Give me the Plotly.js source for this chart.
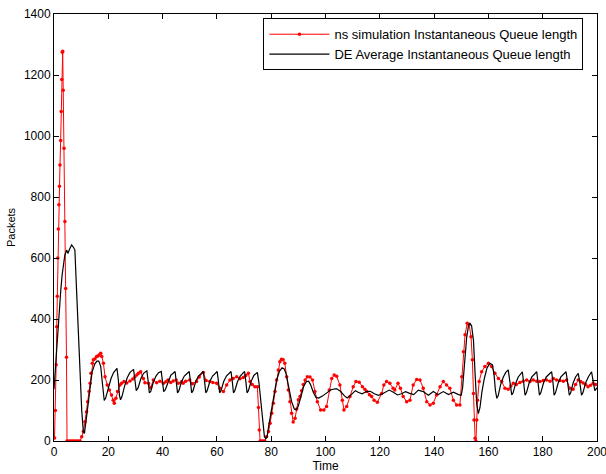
<!DOCTYPE html>
<html>
<head>
<meta charset="utf-8">
<script src="https://cdn.plot.ly/plotly-3.0.1.min.js"></script>
<style>html,body{margin:0;padding:0;background:#fff;}#chart{width:606px;height:474px;}</style>
</head>
<body>
<div id="chart"></div>
<script>
// ns simulation instantaneous queue length (red, with markers)
const nsTime = [0.2,0.5,0.8,1.0,1.2,1.4,1.6,1.8,2.0,2.2,2.45,2.65,2.85,3.05,3.2,3.4,3.7,4.0,4.3,4.6,4.8,5.4,6,6.6,7.2,7.8,8.4,9,9.6,10.2,10.8,11.4,12,12.4,12.9,13.3,13.6,14.1,14.5,15.1,15.7,16.2,16.6,17.2,17.6,18.2,18.8,19.6,20.4,21.2,21.8,22.2,22.8,23.4,24.3,24.9,25.8,26.8,28,29,29.8,30.5,31.1,31.9,32.9,33.5,34.8,35.6,36.6,37.8,39,40.3,41.2,42,43,43.9,45,45.8,47,47.6,48.5,50,51,52.5,53.5,55,56,57.4,58.5,59.9,61.1,62.4,63.6,64.8,66,67.3,68.5,69.7,70.6,71.6,72.2,73,74,74.9,75.3,75.6,75.9,76.5,77,77.6,78.3,79,79.6,80.2,80.8,81.4,82,82.6,83.2,83.8,84.4,85,85.7,86.3,86.9,87.5,88.1,88.8,89.4,90,90.6,91.2,91.8,92.5,93.3,94.3,95.2,96.1,97,98.2,99.4,100.4,101.4,102.3,103.2,104.1,105.3,106.2,106.8,107.8,109,110.2,111.2,112.4,113.6,114.5,115.2,116.2,117,117.9,119.1,120.7,121.5,122.5,123.7,124.9,125.5,126.7,127.6,128.6,129.9,131.1,132.3,133.6,134.8,136,137.3,138.5,139.7,140.9,142.2,143.4,144.6,145.8,147.1,148.3,149.5,150.2,150.8,151.4,152.2,152.9,153.6,154.1,154.5,154.7,155.1,155.4,155.7,156,156.6,157.5,158.7,160,161.2,162.4,163.7,164.9,166.1,167.3,168.3,169.2,170.3,171.6,172.8,174.1,175.3,176.5,177.8,179,180.2,181.4,182.7,183.9,185.1,186.3,187.6,188.8,190,191.2,192.1,193.1,194,194.9,195.8,196.7,197.6,198.6,199.5];
const nsQueue = [10,100,250,375,475,600,695,775,835,905,985,1080,1185,1275,1278,1150,960,720,500,275,0,0,0,0,0,0,0,0,0,14,31,63,96,129,162,189,222,255,266,270,277,279,282,288,277,255,211,184,167,151,134,124,140,162,184,189,195,190,197,203,211,216,222,227,205,191,189,175,200,191,196,189,194,200,192,197,200,189,194,189,196,200,188,195,210,225,198,195,192,189,173,162,184,200,205,211,204,208,215,222,195,185,178,178,110,36,0,0,0,0,14,31,58,91,124,162,200,233,260,268,266,255,211,167,129,91,62,75,105,135,146,165,185,200,211,210,200,162,129,102,102,113,167,205,216,212,184,134,102,113,146,178,195,193,178,170,162,152,146,134,127,156,184,195,189,173,167,189,173,146,129,134,184,202,200,173,129,118,124,151,178,195,184,173,134,118,118,211,293,348,386,381,342,266,156,69,9,0,69,134,195,227,244,255,244,222,205,195,173,170,180,189,185,192,196,200,195,200,196,195,198,200,196,205,200,198,196,200,173,170,185,200,195,190,185,178,183,189,185];

// DE average instantaneous queue length (black line)
const deTime = [0,0.5,1,1.5,2,2.5,3,3.5,4,4.7,5.1,5.8,6.5,7.1,7.7,8.1,8.6,9,9.6,10.2,10.8,11.2,12,13,14,15,15.8,16.5,17.2,17.7,18.1,18.5,19,20,21,22,23.2,23.7,24.1,24.5,25,26,27,28,29.3,29.8,30.3,31,32,33,34.2,34.7,35.1,35.6,36.5,37.5,38.5,39.5,40,40.4,41,42,43,44.6,45.1,45.5,46,47,48,49.8,50.3,50.7,51.2,52.2,53.2,55,55.5,55.9,56.4,57.4,58.4,60.1,60.6,61,61.5,62.5,63.5,65.2,65.7,66.1,66.6,67.6,68.6,70.2,70.7,71.1,71.6,72.6,73.6,74.9,75.5,76,76.5,77,77.5,78,78.5,79,80,81,82,83,84,84.8,85.5,86.5,87.5,88.5,89.2,90,91,92,93,93.8,94.5,95.5,96.5,97.5,99,100.5,102,104,105.5,107,108,109.5,111,112,113.5,115,116.5,118,119.5,121,123.5,125,126.5,128,129.5,131,132.5,134.2,136,137.9,139.7,141.5,143.4,145.3,147.1,149,150,150.5,151.2,152,152.7,153.2,153.8,154.5,155.1,155.7,156.3,156.9,157.6,158.5,159.5,160.6,161.5,162.1,162.6,163.1,163.6,164.5,165.5,166.4,167.3,167.9,168.6,169.1,170,171,172.5,173,173.5,174,175,176,177.8,178.3,178.8,179.3,180.3,181.3,183.3,183.8,184.2,184.7,185.7,186.7,188.6,189.2,189.8,190.3,191.2,192.1,193.1,193.7,194.3,194.8,195.8,196.8,198,198.6,199.2,200];
const deQueue = [170,240,310,375,440,495,545,585,610,626,615,630,643,636,626,539,430,320,211,102,30,25,80,160,225,252,262,262,245,200,150,133,140,175,205,225,238,200,150,135,145,180,208,225,235,200,165,175,205,222,230,195,158,162,190,212,224,228,195,162,168,195,215,228,192,158,165,195,213,228,192,158,165,195,213,228,192,158,165,195,213,228,192,158,165,195,213,228,192,158,165,195,213,228,192,158,165,195,215,225,190,140,90,45,15,8,15,45,100,155,200,228,240,236,220,175,130,105,102,115,150,180,195,196,185,160,143,141,148,158,168,172,163,148,141,152,165,160,155,162,163,155,150,155,167,160,151,155,162,156,152,167,162,150,162,152,162,152,160,152,150,175,250,340,380,386,378,330,220,120,90,110,160,205,240,255,250,215,165,140,148,185,210,225,233,190,151,158,188,210,227,190,150,158,190,210,227,190,150,158,190,210,227,190,150,158,190,210,227,190,150,158,190,210,222,190,150,158,190,210,227,195,165,175];

const seriesNames = ['ns simulation Instantaneous Queue length', 'DE Average Instantaneous Queue length'];
const xTicks = [0,20,40,60,80,100,120,140,160,180,200];
const yTicks = [0,200,400,600,800,1000,1200,1400];

const font = {family: 'Liberation Sans, Arial, sans-serif', size: 12, color: '#000'};

const traces = [
  {x: nsTime, y: nsQueue, name: seriesNames[0], type: 'scatter', mode: 'lines+markers',
   line: {color: '#ff0000', width: 1}, marker: {color: '#ff0000', size: 3.5, symbol: 'circle'}},
  {x: deTime, y: deQueue, name: seriesNames[1], type: 'scatter', mode: 'lines',
   line: {color: '#000000', width: 1.2}}
];

const axisCommon = {showgrid: false, zeroline: false, showline: true, linecolor: '#000', linewidth: 1,
  mirror: 'ticks', ticks: 'inside', ticklen: 5, tickcolor: '#000', tickfont: font,
  ticklabeloverflow: 'allow'};

const layout = {
  width: 606, height: 474,
  margin: {l: 54, r: 9, t: 14, b: 33},
  paper_bgcolor: '#fff', plot_bgcolor: '#fff',
  font: font,
  showlegend: true,
  legend: {x: 0.975, xanchor: 'right', y: 0.99, yanchor: 'top', bgcolor: '#fff',
    bordercolor: '#000', borderwidth: 1, font: {family: font.family, size: 13, color: '#000'},
    itemwidth: 60, tracegroupgap: 0},
  xaxis: Object.assign({}, axisCommon, {range: [0, 200], tickvals: xTicks, ticktext: xTicks.map(String),
    title: {text: 'Time', font: font, standoff: 2}}),
  yaxis: Object.assign({}, axisCommon, {range: [0, 1400], tickvals: yTicks, ticktext: yTicks.map(String),
    title: {text: 'Packets', font: {family: font.family, size: 11, color: '#000'}, standoff: 6}})
};

Plotly.newPlot('chart', traces, layout, {displayModeBar: false, staticPlot: true});
</script>
</body>
</html>
